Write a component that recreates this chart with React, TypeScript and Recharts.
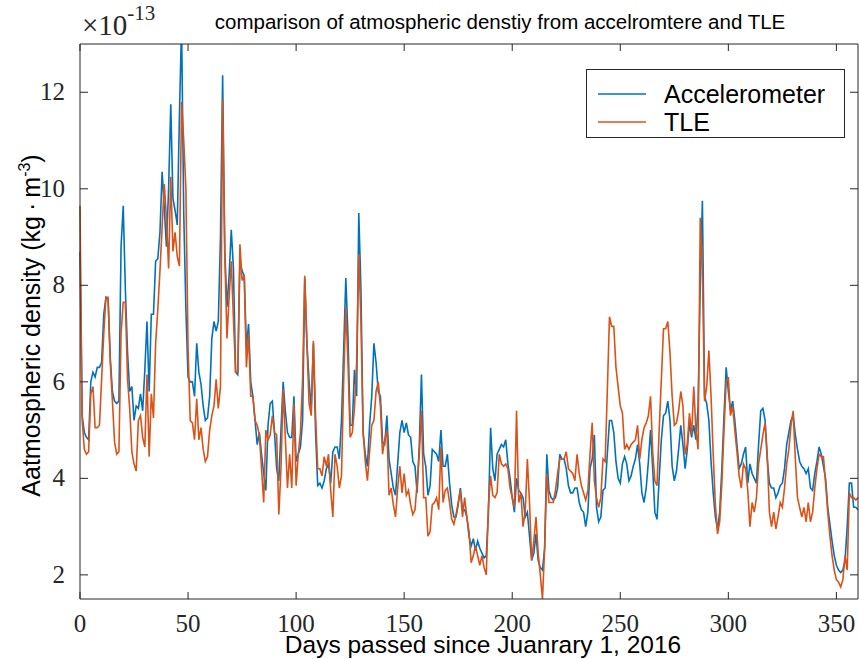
import { LineChart, Line, XAxis, YAxis, Legend } from "recharts"

// daily values, day 0 .. 360 (units of 1e-13 kg/m^3)
const accelerometer = [
  8.7, 5.3, 4.95, 4.85, 4.8, 6.0, 6.2, 6.1, 6.3, 6.3,
  6.4, 7.4, 7.75, 7.7, 6.5, 5.8, 5.6, 5.55, 5.6, 8.8,
  9.65, 7.9, 6.6, 5.8, 5.9, 5.2, 5.5, 5.45, 5.75, 5.4,
  6.25, 7.25, 5.8, 7.4, 7.4, 8.5, 8.55, 9.1, 10.35, 9.6,
  8.8, 10.0, 11.75, 9.8, 9.55, 9.25, 11.5, 13.4, 9.5, 7.5,
  6.1, 6.0, 6.0, 5.7, 6.8, 6.2, 5.95, 5.5, 5.2, 5.25,
  5.7, 6.9, 7.25, 7.05, 7.25, 9.0, 12.35, 8.7, 7.55, 8.2,
  9.15, 8.35, 6.2, 6.15, 8.5, 8.3, 8.2, 6.7, 7.2, 6.0,
  5.7, 5.2, 4.7, 4.95, 4.5, 4.1, 3.75, 5.1, 5.55, 5.6,
  4.95, 4.2, 3.95, 5.0, 6.0, 5.4, 4.95, 4.85, 4.85, 5.7,
  4.35, 4.5, 4.65, 5.2, 8.15, 6.8, 6.0, 5.45, 6.8, 4.95,
  3.85, 3.9, 3.8, 3.95, 4.2, 4.3, 3.9, 4.55, 4.65, 4.65,
  4.4, 5.2, 6.65, 8.15, 6.95, 5.1, 5.1, 6.25, 5.7, 9.5,
  7.9, 4.95, 4.5, 4.25, 5.1, 5.7, 6.8, 6.4, 5.8, 5.7,
  4.75, 4.7, 5.3, 4.4, 4.1, 3.8, 3.65, 4.3, 4.95, 5.2,
  4.95, 5.15, 4.9, 4.85, 4.35, 4.25, 3.7, 4.7, 6.15, 4.5,
  4.25, 3.65, 3.85, 4.6, 4.55, 4.5, 4.35, 5.0, 4.25, 4.25,
  4.5, 3.9, 3.45, 3.2, 3.2, 3.45, 3.8, 3.35, 3.35, 3.2,
  2.8, 2.6, 2.75, 2.5, 2.7, 2.55, 2.45, 2.35, 2.4, 3.3,
  5.05, 4.2, 3.95, 4.5, 4.6, 4.7, 4.65, 4.8, 4.3, 4.0,
  3.6, 3.3, 4.0, 3.75, 3.7, 3.6, 3.2, 3.3, 2.8, 2.3,
  2.45, 2.85, 2.3, 2.15, 2.1, 2.55, 4.5, 3.75, 3.6, 3.55,
  3.6, 3.8, 4.5, 4.4, 4.4, 4.2, 3.85, 3.7, 3.7, 3.8,
  3.8, 3.5, 3.35, 3.3, 3.0, 3.3, 4.2, 4.4, 4.9, 3.4,
  3.1, 3.2, 3.75, 3.8, 4.5, 5.2, 5.2, 4.95, 4.35, 4.0,
  3.9, 4.3, 4.45, 4.3, 3.95, 4.05, 4.25, 4.4, 4.7, 4.3,
  3.7, 3.5, 3.8, 4.35, 5.0, 4.2, 3.3, 3.15, 4.0, 4.8,
  5.3, 5.35, 5.6, 5.2, 4.25, 3.95, 4.15, 4.6, 5.1, 4.7,
  4.2, 4.6, 5.15, 4.85, 5.1, 4.8, 5.5, 8.0, 9.75, 5.7,
  5.55, 5.2, 4.35, 3.7, 3.2, 2.95, 3.3, 4.2, 5.3, 6.3,
  5.8, 5.4, 5.6, 5.2, 4.7, 4.2, 4.3, 4.5, 4.65, 3.9,
  4.3, 4.1, 4.0, 3.9, 4.7, 5.4, 5.45, 5.2, 4.4, 3.9,
  3.8, 3.8, 3.6, 3.7, 3.85, 3.9, 4.2, 4.7, 4.95, 5.2,
  5.3, 4.9, 4.6, 4.35, 4.25, 4.2, 4.1, 4.2, 3.8, 3.75,
  4.1, 4.35, 4.65, 4.5, 4.25, 4.0, 3.4, 3.05, 2.7, 2.4,
  2.2, 2.1, 2.05, 2.1, 2.3, 3.0, 3.9, 3.9, 3.4, 3.4, 3.35,
]

const tle = [
  9.65, 5.2, 4.6, 4.5, 4.55, 5.75, 5.9, 5.05, 5.05, 5.1,
  6.05, 7.0, 7.75, 7.75, 6.4, 5.6, 4.75, 4.5, 4.55, 7.0,
  7.65, 7.65, 6.05, 5.45, 4.55, 4.3, 4.15, 5.2, 5.3, 4.85,
  4.65, 6.15, 4.45, 5.75, 5.25, 6.8, 7.5, 8.3, 9.2, 10.1,
  9.4, 8.35, 10.25, 8.7, 9.1, 8.6, 8.4, 11.8, 11.0, 10.0,
  6.7, 5.2, 5.15, 4.8, 5.65, 4.8, 5.05, 4.6, 4.35, 4.45,
  5.0, 5.3, 5.5, 6.05, 5.45, 5.9, 11.85, 8.65, 6.9, 7.75,
  8.5, 7.3, 6.2, 6.2, 8.85, 8.1, 8.2, 6.3, 7.0, 5.7,
  5.7, 5.2, 5.1, 4.9, 4.2, 3.5, 5.0, 4.8, 4.9, 5.3,
  4.95, 4.9, 3.25, 4.2, 5.85, 4.85, 3.8, 4.5, 3.8, 5.55,
  3.85, 4.5, 4.95, 6.05, 8.2, 6.8, 5.55, 5.3, 6.85, 5.3,
  4.2, 4.2, 4.05, 4.45, 4.25, 4.5, 3.75, 3.2, 4.5, 4.25,
  3.8, 4.05, 6.0, 7.55, 6.4, 4.85, 4.95, 5.45, 6.4, 8.65,
  7.25, 4.95, 4.35, 3.95, 4.55, 5.1, 5.2, 5.8, 6.0, 5.5,
  4.5, 4.8, 5.0, 3.65, 3.8, 3.45, 3.2, 3.8, 4.25, 3.7,
  4.1, 3.65, 3.75, 3.45, 3.25, 3.35, 3.9, 4.5, 5.4, 3.6,
  3.6, 2.8, 2.9, 3.45, 3.5, 3.6, 3.35, 4.65, 3.5, 3.75,
  3.8, 3.5, 3.15, 3.05, 3.25, 3.5, 3.75, 3.2, 3.6, 3.2,
  2.9, 2.25, 2.4, 2.6, 2.4, 2.2, 2.4, 2.15, 2.0, 3.45,
  4.05, 3.65, 3.6, 3.7, 4.5, 4.3, 4.25, 4.3, 4.2, 3.8,
  3.6, 3.4, 5.4, 3.5, 3.7, 3.0, 3.3, 4.4, 3.5, 2.3,
  2.7, 3.2, 2.45, 2.0, 1.5, 2.55, 4.1, 3.5, 3.5, 3.5,
  3.75, 4.1, 4.4, 4.4, 4.4, 4.55, 4.2, 4.15, 4.1, 3.95,
  4.5, 4.1, 3.85, 3.7, 3.55, 3.75, 4.5, 5.15, 3.95, 3.6,
  3.4, 3.6, 4.4, 4.35, 5.8, 7.35, 7.15, 7.15, 6.3, 5.9,
  5.5, 5.35, 4.6, 4.7, 4.6, 4.7, 4.75, 4.8, 5.1, 4.4,
  4.8, 5.05, 5.15, 5.3, 5.7, 4.55, 3.95, 3.85, 5.0, 6.05,
  7.1, 7.1, 7.25, 6.6, 5.7, 5.1, 5.15, 5.4, 5.8, 5.5,
  4.5, 4.7, 5.35, 4.9, 5.9, 5.0, 4.6, 9.4, 8.3, 5.6,
  5.9, 6.65, 5.7, 4.5, 3.45, 2.85, 3.1, 3.9, 5.0, 6.0,
  6.1, 5.3, 5.5, 5.0, 4.55, 4.05, 3.8, 4.3, 4.2, 3.75,
  3.0, 3.5, 3.3, 3.6, 4.3, 4.6, 4.9, 5.15, 4.5, 3.3,
  3.0, 3.3, 2.95, 3.2, 3.5, 3.4, 3.8, 4.3, 4.6, 5.1,
  5.4, 4.4, 3.6, 3.4, 3.2, 3.4, 3.1, 3.5, 3.1, 3.3,
  3.8, 4.2, 4.5, 4.45, 4.45, 3.9, 3.3, 2.8, 2.4, 2.1,
  1.9, 1.85, 1.75, 1.9, 2.4, 2.1, 3.7, 3.6, 3.6, 3.55, 3.6,
]

const xTicks = [0, 50, 100, 150, 200, 250, 300, 350]
const yTicks = [2, 4, 6, 8, 10, 12]
const seriesNames = ["Accelerometer", "TLE"]

const AX = "#262626"
const BLUE = "#0072BD"
const ORANGE = "#D95319"
const colors = [BLUE, ORANGE]

const data = accelerometer.map((v, i) => ({ day: i, acc: v, tle: tle[i] }))

const serif = "Liberation Serif"
const sans = "Liberation Sans"

function BottomTick(props: any) {
  const { x, y, payload } = props
  return (
    <g>
      <line x1={x} y1={y} x2={x} y2={y - 7} stroke={AX} />
      <text x={x} y={y + 33} textAnchor="middle" fontFamily={serif} fontSize={25} fill={AX}>{payload.value}</text>
    </g>
  )
}

function TopTick(props: any) {
  const { x, y } = props
  return <line x1={x} y1={y} x2={x} y2={y + 7} stroke={AX} />
}

function LeftTick(props: any) {
  const { x, y, payload } = props
  return (
    <g>
      <line x1={x} y1={y} x2={x + 8} y2={y} stroke={AX} />
      <text x={x - 15} y={y + 8} textAnchor="end" fontFamily={serif} fontSize={25} fill={AX}>{payload.value}</text>
    </g>
  )
}

function RightTick(props: any) {
  const { x, y } = props
  return <line x1={x} y1={y} x2={x - 8} y2={y} stroke={AX} />
}

function TopTitle(props: any) {
  const vb = props.viewBox
  return (
    <g>
      <text x={vb.x + vb.width / 2 + 31} y={29} textAnchor="middle" fontFamily={sans} fontSize={20.5} fill="#000">
        comparison of atmospheric denstiy from accelromtere and TLE
      </text>
      <text x={vb.x + 2} y={35} fontFamily={serif} fontSize={29} fill={AX}>
        ×10<tspan dy={-15} fontSize={21}>-13</tspan>
      </text>
    </g>
  )
}

function XTitle(props: any) {
  const vb = props.viewBox
  return (
    <text x={vb.x + vb.width / 2 + 14} y={vb.y + 54} textAnchor="middle" fontFamily={sans} fontSize={24.5} fill="#000">
      Days passed since Juanrary 1, 2016
    </text>
  )
}

function YTitle(props: any) {
  const vb = props.viewBox
  const cx = vb.x + 40
  const cy = vb.y + vb.height / 2 + 4
  return (
    <text x={cx} y={cy} transform={`rotate(-90, ${cx}, ${cy})`} textAnchor="middle" fontFamily={sans} fontSize={25} fill="#000">
      Aatmospheric density (kg{"\u2009\u00B7\u2009"}m<tspan dy={-10} fontSize={16}>-3</tspan><tspan dy={10}>)</tspan>
    </text>
  )
}

function LegendBox() {
  return (
    <div style={{ width: 259, height: 69, boxSizing: "border-box", border: `1px solid ${AX}`, background: "#fff", position: "relative" }}>
      {seriesNames.map((name, i) => (
        <div key={name} style={{ position: "absolute", left: 11, top: 10 + i * 28, height: 28, display: "flex", alignItems: "center" }}>
          <svg width={48} height={4} style={{ display: "block" }}>
            <line x1={0} y1={2} x2={48} y2={2} stroke={colors[i]} strokeWidth={1.6} />
          </svg>
          <span style={{ marginLeft: 18, fontFamily: sans, fontSize: 25, color: "#000", lineHeight: "28px" }}>{name}</span>
        </div>
      ))}
    </div>
  )
}

export default function App() {
  return (
    <div style={{ position: "absolute", left: 0, top: 0, background: "#fff" }}>
      <LineChart width={859} height={659} data={data} margin={{ top: 0, right: 0, bottom: 0, left: 0 }}>
        <XAxis dataKey="day" type="number" domain={[0, 360]} ticks={xTicks} interval={0}
          height={60} tickSize={0} tickMargin={0} tick={<BottomTick />} axisLine={{ stroke: AX }}
          label={(p: any) => <XTitle viewBox={p.viewBox} />} />
        <XAxis xAxisId="top" orientation="top" dataKey="day" type="number" domain={[0, 360]} ticks={xTicks} interval={0}
          height={44} tickSize={0} tickMargin={0} tick={<TopTick />} axisLine={{ stroke: AX }}
          label={(p: any) => <TopTitle viewBox={p.viewBox} />} />
        <YAxis type="number" domain={[1.5, 13]} allowDataOverflow ticks={yTicks} interval={0}
          width={80} tickSize={0} tickMargin={0} tick={<LeftTick />} axisLine={{ stroke: AX }}
          label={(p: any) => <YTitle viewBox={p.viewBox} />} />
        <YAxis yAxisId="right" orientation="right" type="number" domain={[1.5, 13]} allowDataOverflow ticks={yTicks} interval={0}
          width={1} tickSize={0} tickMargin={0} tick={<RightTick />} axisLine={{ stroke: AX }} />
        <Legend layout="horizontal" verticalAlign="middle" align="center"
          wrapperStyle={{ left: 586, top: 69, width: 259, height: 69 }} content={() => <LegendBox />} />
        <Line dataKey="acc" name={seriesNames[0]} stroke={BLUE} strokeWidth={1.6} dot={false} isAnimationActive={false} />
        <Line dataKey="tle" name={seriesNames[1]} stroke={ORANGE} strokeWidth={1.6} dot={false} isAnimationActive={false} />
      </LineChart>
    </div>
  )
}
